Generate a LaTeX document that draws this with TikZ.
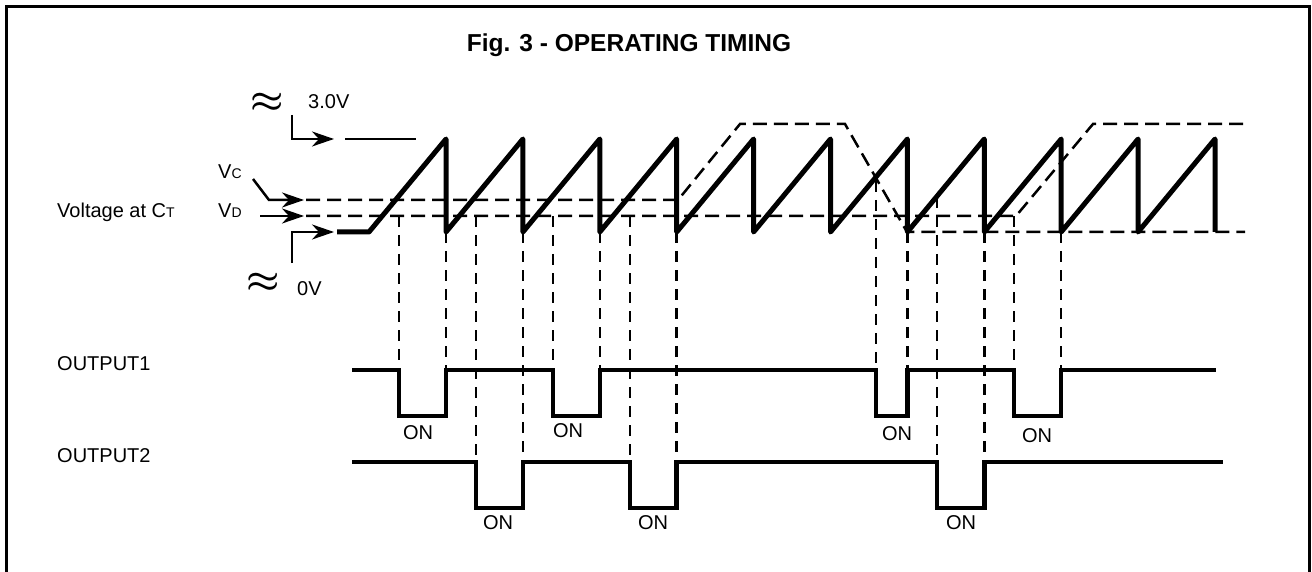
\documentclass[tikz,border=0pt]{standalone}
\usepackage{fontspec}
\setmainfont{Liberation Sans}
\usetikzlibrary{arrows.meta}
\begin{document}
\begin{tikzpicture}[x=1pt,y=-1pt,
  lbl/.style={font=\fontsize{20}{24}\selectfont, inner sep=0pt},
  saw/.style={line width=5pt, line join=round},
  sig/.style={line width=4.5pt, line join=miter},
  thr/.style={line width=2.5pt, dash pattern=on 14pt off 7pt},
  proj/.style={line width=2.5pt, dash pattern=on 11pt off 8pt},
  refline/.style={line width=2.2pt},
  pointer/.style={line width=2.5pt, -{Stealth[length=22pt,width=15pt,inset=7pt]}},
  approxsym/.style={inner sep=0pt, font=\fontsize{24}{24}\selectfont},
]
\useasboundingbox (0,0) rectangle (1312,572);
% frame (open at the bottom)
\draw[line width=3pt] (6,572) -- (6,7) -- (1309,7) -- (1309,572);

% title
\node[font=\bfseries\fontsize{24.5}{28}\selectfont, anchor=base, inner sep=0pt] (title) at (629,52) {Fig. 3 - OPERATING TIMING};

% left labels
\node[lbl, anchor=base west] (vt) at (57,218) {Voltage at C{\fontsize{14}{16}\selectfont T}};
\node[lbl, anchor=base west] (vc) at (218,179) {V{\fontsize{14}{16}\selectfont C}};
\node[lbl, anchor=base west] (vd) at (218,218) {V{\fontsize{14}{16}\selectfont D}};
\node[lbl, anchor=base west] (v3) at (308,109) {3.0V};
\node[lbl, anchor=base west] (v0) at (297,295) {0V};
\node[approxsym] (ap1) at (267,103) {\scalebox{1.5}[1.4]{\boldmath$\approx$}};
\node[approxsym] (ap2) at (263,283) {\scalebox{1.5}[1.4]{\boldmath$\approx$}};
\node[lbl, anchor=base west] (o1) at (57,370) {OUTPUT1};
\node[lbl, anchor=base west] (o2) at (57,462) {OUTPUT2};

% pointer arrows
\coordinate (a3s) at (292,115); \coordinate (a3b) at (292,139); \coordinate (a3t) at (334,139);
\coordinate (acs) at (253,179); \coordinate (acb) at (269,200); \coordinate (act) at (304,200);
\coordinate (ads) at (260,216); \coordinate (adt) at (304,216);
\coordinate (a0s) at (292,263); \coordinate (a0b) at (292,232); \coordinate (a0t) at (334,232);
\draw[pointer] (a3s) -- (a3b) -- (a3t);
\draw[pointer] (acs) -- (acb) -- (act);
\draw[pointer] (ads) -- (adt);
\draw[pointer] (a0s) -- (a0b) -- (a0t);

% 3.0V reference
\draw[refline] (345,139) -- (416,139);

% threshold lines
\draw[thr] (306,200) -- (678,200) -- (740,124) -- (845,124) -- (907,232) -- (1245,232);
\draw[thr] (306,216) -- (1016,216) -- (1093,124) -- (1245,124);

% sawtooth
\draw[saw] (337,232) -- (369,232)
  \foreach \k in {0,...,10} { -- ({446+76.9*\k},139) -- ({446+76.9*\k},232) };

% projection lines to OUTPUT1
\foreach \x/\y in {399/216, 446/232, 553/216, 599.8/232, 876/181, 907.4/232, 1014/216, 1061.2/232}
  \draw[proj] (\x,\y) -- (\x,370);
% projection lines to OUTPUT2
\foreach \x/\y in {476/216, 522.9/232, 630/216, 676.7/232, 937/197, 984.3/232}
  \draw[proj] (\x,\y) -- (\x,462);

% OUTPUT1
\draw[sig] (352,370) -- (399,370) -- (399,416) -- (446,416) -- (446,370)
  -- (553,370) -- (553,416) -- (599.8,416) -- (599.8,370)
  -- (876,370) -- (876,416) -- (907.4,416) -- (907.4,370)
  -- (1014,370) -- (1014,416) -- (1061.2,416) -- (1061.2,370) -- (1216,370);
% OUTPUT2
\draw[sig] (352,462) -- (476,462) -- (476,508) -- (522.9,508) -- (522.9,462)
  -- (630,462) -- (630,508) -- (676.7,508) -- (676.7,462)
  -- (937,462) -- (937,508) -- (984.3,508) -- (984.3,462) -- (1223,462);

% ON labels
\node[lbl, anchor=base] (on1) at (418,439) {ON};
\node[lbl, anchor=base] (on2) at (568,437) {ON};
\node[lbl, anchor=base] (on3) at (897,440) {ON};
\node[lbl, anchor=base] (on4) at (1037,442) {ON};
\node[lbl, anchor=base] (on5) at (498,529) {ON};
\node[lbl, anchor=base] (on6) at (653,529) {ON};
\node[lbl, anchor=base] (on7) at (961,529) {ON};
\end{tikzpicture}
\end{document}
